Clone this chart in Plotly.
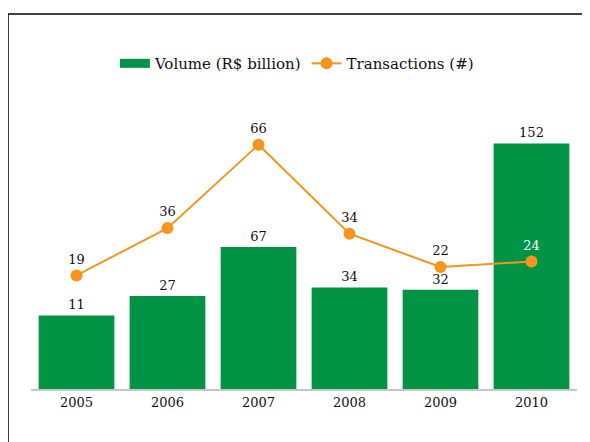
import plotly.graph_objects as go

years = ["2005", "2006", "2007", "2008", "2009", "2010"]
volume = [11, 27, 67, 34, 32, 152]
transactions = [19, 36, 66, 34, 22, 24]

GREEN = "#009444"
ORANGE = "#F7941D"
FONT = "DejaVu Serif"

Y1_MIN = -49.3
Y1_MAX = 187.6

fig = go.Figure()

# bars start at the bottom of the (offset) value axis and end at their value
fig.add_trace(go.Bar(
    x=years, y=[v - Y1_MIN for v in volume], base=Y1_MIN,
    name="Volume (R$ billion)",
    marker=dict(color=GREEN, line=dict(width=0)),
    text=[str(v) for v in volume], textposition="outside",
    textfont=dict(family=FONT, size=13, color="#111111"),
    cliponaxis=False, showlegend=False, yaxis="y",
))

# legend-only entry giving the wide green swatch
fig.add_trace(go.Scatter(
    x=[None], y=[None], mode="lines", name="Volume (R$ billion)",
    line=dict(color=GREEN, width=9), showlegend=True,
))

txt_colors = ["#111111"] * (len(years) - 1) + ["#ffffff"]
fig.add_trace(go.Scatter(
    x=years, y=transactions, name="Transactions (#)",
    mode="lines+markers+text",
    line=dict(color=ORANGE, width=2),
    marker=dict(color=ORANGE, size=12),
    text=[str(v) for v in transactions], textposition="top center",
    textfont=dict(family=FONT, size=13, color=txt_colors),
    cliponaxis=False, yaxis="y2",
))

fig.update_layout(
    width=582, height=434,
    margin=dict(l=23, r=13, t=92, b=53, pad=0),
    paper_bgcolor="white", plot_bgcolor="white",
    font=dict(family=FONT, size=13, color="#111111"),
    bargap=0.168,
    showlegend=True,
    legend=dict(orientation="h", x=0.487, xanchor="center", y=1.126, yanchor="middle",
                font=dict(family=FONT, size=15, color="#111111"),
                itemwidth=30, tracegroupgap=0, bgcolor="rgba(0,0,0,0)"),
    xaxis=dict(showline=True, linecolor="#c8c8c8", linewidth=2, ticks="",
               showgrid=False, zeroline=False,
               tickfont=dict(family=FONT, size=13, color="#111111")),
    yaxis=dict(range=[Y1_MIN, Y1_MAX], visible=False, showgrid=False, zeroline=False),
    yaxis2=dict(range=[-21.85, 82.07], overlaying="y", visible=False,
                showgrid=False, zeroline=False),
    shapes=[
        dict(type="line", xref="paper", yref="paper",
             x0=-0.0421, x1=1.3, y0=1.2976, y1=1.2976,
             line=dict(color="black", width=1.5)),
        dict(type="line", xref="paper", yref="paper",
             x0=-0.0421, x1=-0.0421, y0=-0.5, y1=1.2976,
             line=dict(color="black", width=1.5)),
    ],
)

fig.write_html("out.html")
